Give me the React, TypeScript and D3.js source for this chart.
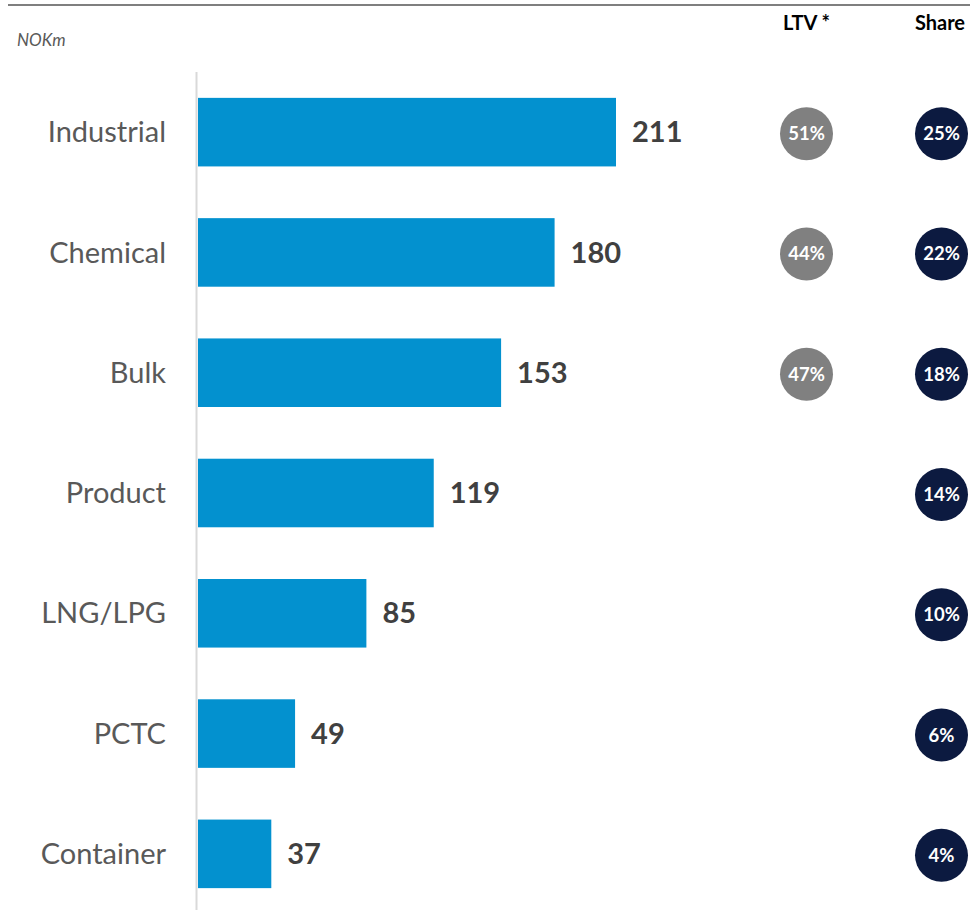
import React from "react";
import * as d3 from "d3";

const categories = ["Industrial", "Chemical", "Bulk", "Product", "LNG/LPG", "PCTC", "Container"];
const values = [211, 180, 153, 119, 85, 49, 37];
const ltvLabels = ["51%", "44%", "47%", null, null, null, null];
const shareLabels = ["25%", "22%", "18%", "14%", "10%", "6%", "4%"];
const unitLabel = "NOKm";
const ltvHeader = "LTV *";
const shareHeader = "Share";

const W = 970;
const H = 910;
const FONT = "Lato, 'Open Sans', sans-serif";

export default function App() {
  const x = d3.scaleLinear().domain([0, 211]).range([198, 616]);
  const y = d3
    .scaleBand<string>()
    .domain(categories)
    .range([72, 914])
    .paddingInner(0.43)
    .paddingOuter(0.215);
  const bw = y.bandwidth();
  const ltvX = 806.5;
  const shareX = 941.5;
  const r = 26.5;

  return (
    <svg
      width={W}
      height={H}
      style={{ position: "absolute", left: 0, top: 0, background: "#fff" }}
      fontFamily={FONT}
    >
      <line x1={8} x2={970} y1={5} y2={5} stroke="#7f7f7f" strokeWidth={2} />
      <text x={17} y={46} fontSize={17} fontStyle="italic" fill="#595959">
        {unitLabel}
      </text>
      <text x={ltvX} y={30} fontSize={20} fontWeight="bold" fill="#000" textAnchor="middle">
        {ltvHeader}
      </text>
      <text x={940} y={30} fontSize={20} fontWeight="bold" fill="#000" textAnchor="middle">
        {shareHeader}
      </text>
      <line x1={196.5} x2={196.5} y1={72} y2={910} stroke="#d9d9d9" strokeWidth={2} />
      {categories.map((c, i) => {
        const yc = (y(c) as number) + bw / 2;
        return (
          <g key={c}>
            <rect x={x(0)} y={y(c)} width={x(values[i]) - x(0)} height={bw} fill="#0391cf" />
            <text
              x={166}
              y={yc}
              dy="0.35em"
              fontSize={29}
              fill="#595959"
              textAnchor="end"
            >
              {c}
            </text>
            <text
              x={x(values[i]) + 16}
              y={yc}
              dy="0.35em"
              fontSize={29}
              fontWeight="bold"
              fill="#404040"
            >
              {values[i]}
            </text>
            {ltvLabels[i] && (
              <g>
                <circle cx={ltvX} cy={yc + 1.5} r={r} fill="#808080" />
                <text
                  x={ltvX}
                  y={yc + 1.5}
                  dy="0.35em"
                  fontSize={18.5}
                  fontWeight="bold"
                  fill="#fff"
                  textAnchor="middle"
                >
                  {ltvLabels[i]}
                </text>
              </g>
            )}
            <circle cx={shareX} cy={yc + 1.5} r={r} fill="#0c1a40" />
            <text
              x={shareX}
              y={yc + 1.5}
              dy="0.35em"
              fontSize={18.5}
              fontWeight="bold"
              fill="#fff"
              textAnchor="middle"
            >
              {shareLabels[i]}
            </text>
          </g>
        );
      })}
    </svg>
  );
}
